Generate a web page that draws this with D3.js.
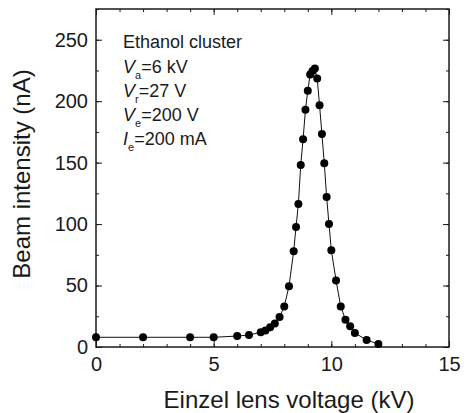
<!DOCTYPE html>
<html>
<head>
<meta charset="utf-8">
<script src="https://cdn.jsdelivr.net/npm/d3@7"></script>
<style>
  body { margin: 0; background: #fff; }
  svg text { font-family: "Liberation Sans", Arial, sans-serif; fill: #1a1a1a; }
  .axis path { display: none; }
  .axis line { stroke: #1a1a1a; stroke-width: 1; }
</style>
</head>
<body>
<script>
// data
var voltage = [0, 2, 4, 5, 6, 6.5, 7.0, 7.2, 7.4, 7.6, 7.8, 8.0, 8.2, 8.4, 8.5, 8.6, 8.7, 8.8, 8.9, 9.0,
  9.1, 9.2, 9.3, 9.4, 9.5, 9.6, 9.7, 9.8, 9.9, 10.0, 10.2, 10.4, 10.6, 10.8, 11.0, 11.5, 12.0];
var intensity = [7.9, 7.9, 7.9, 7.9, 8.9, 9.7, 11.9, 13.5, 16, 19.2, 24.4, 33, 49.5, 78, 97.7, 116.4, 148, 169, 193, 208.5,
  221.8, 224.5, 226.5, 218.5, 196.6, 173.3, 149.5, 122, 100, 78.8, 54.2, 33, 22.2, 16.8, 11.4, 5.7, 2.4];
var xTicks = [0, 5, 10, 15];
var yTicks = [0, 50, 100, 150, 200, 250];
var xTitle = 'Einzel lens voltage (kV)';
var yTitle = 'Beam intensity (nA)';
var noteTitle = 'Ethanol cluster';
var noteSymbols = ['V', 'V', 'V', 'I'];
var noteSubs = ['a', 'r', 'e', 'e'];
var noteValues = ['=6 kV', '=27 V', '=200 V', '=200 mA'];

var W = 464, H = 413;
var margin = {top: 9, right: 15, bottom: 66, left: 96};
var width = W - margin.left - margin.right
  , height = H - margin.top - margin.bottom;

var svgm = d3.select('body').append('svg').attr('width', W).attr('height', H);
var svg = svgm.append('g').attr('transform', `translate(${margin.left},${margin.top})`);

var x = d3.scaleLinear().domain([0, 15]).range([0, width])
  , y = d3.scaleLinear().domain([0, 275]).range([height, 0]);

var pts = voltage.map((v, i) => ({x: v, y: intensity[i]}));

// minor ticks, all four sides
svg.append('g').attr('class', 'axis').attr('transform', `translate(0,${height})`)
  .call(d3.axisBottom(x).tickValues(d3.range(0, 16, 1)).tickSize(-3).tickFormat(''));
svg.append('g').attr('class', 'axis')
  .call(d3.axisTop(x).tickValues(d3.range(0, 16, 1)).tickSize(-3).tickFormat(''));
svg.append('g').attr('class', 'axis')
  .call(d3.axisLeft(y).tickValues(d3.range(0, 276, 25)).tickSize(-3).tickFormat(''));
svg.append('g').attr('class', 'axis').attr('transform', `translate(${width},0)`)
  .call(d3.axisRight(y).tickValues(d3.range(0, 276, 25)).tickSize(-3).tickFormat(''));

// major ticks
svg.append('g').attr('class', 'axis').attr('transform', `translate(0,${height})`)
  .call(d3.axisBottom(x).tickValues(xTicks).tickSize(-6).tickPadding(10).tickFormat(d3.format('d')));
svg.append('g').attr('class', 'axis')
  .call(d3.axisTop(x).tickValues(xTicks).tickSize(-6).tickFormat(''));
svg.append('g').attr('class', 'axis')
  .call(d3.axisLeft(y).tickValues(yTicks).tickSize(-6).tickPadding(8).tickFormat(d3.format('d')));
svg.append('g').attr('class', 'axis').attr('transform', `translate(${width},0)`)
  .call(d3.axisRight(y).tickValues(yTicks).tickSize(-6).tickFormat(''));
svg.selectAll('.axis text').attr('font-size', 20).attr('fill', '#1a1a1a')
  .style('font-family', '"Liberation Sans", Arial, sans-serif');

// frame
svg.append('rect').attr('width', width).attr('height', height)
  .attr('fill', 'none').attr('stroke', '#1a1a1a').attr('stroke-width', 1.5);

// data
var line = d3.line().x(d => x(d.x)).y(d => y(d.y));
svg.append('path').datum(pts).attr('d', line)
  .attr('fill', 'none').attr('stroke', '#111').attr('stroke-width', 1);
svg.append('g').selectAll('circle').data(pts).enter().append('circle')
  .attr('cx', d => x(d.x)).attr('cy', d => y(d.y)).attr('r', 4).attr('fill', '#000');

// titles
svgm.append('text').attr('x', 289).attr('y', 408).attr('text-anchor', 'middle')
  .attr('font-size', 24).text(xTitle);
svgm.append('text').attr('transform', 'translate(30,174) rotate(-90)')
  .attr('text-anchor', 'middle').attr('font-size', 24).text(yTitle);

// annotation
var note = svgm.append('g').attr('transform', 'translate(123,0)');
note.append('text').attr('y', 48).attr('font-size', 18).text(noteTitle);
noteSymbols.forEach(function(s, i) {
  var t = note.append('text').attr('y', 73 + i * 24).attr('font-size', 18);
  t.append('tspan').attr('font-style', 'italic').text(s);
  t.append('tspan').attr('font-size', 11).attr('dy', 6).text(noteSubs[i]);
  t.append('tspan').attr('dy', -6).text(noteValues[i]);
});
</script>
</body>
</html>
